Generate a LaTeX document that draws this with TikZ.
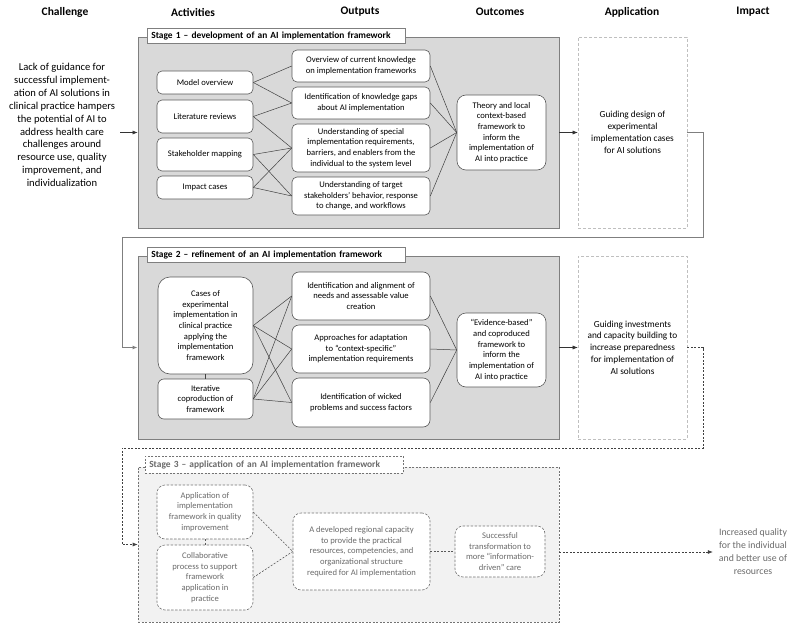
\documentclass[tikz,border=0pt]{standalone}
\usepackage{fontspec}
\setmainfont{Carlito}
\usetikzlibrary{arrows.meta}
\definecolor{stagefill}{HTML}{D9D9D9}
\definecolor{stageline}{HTML}{7F7F7F}
\definecolor{boxline}{HTML}{595959}
\definecolor{paleline}{HTML}{BFBFBF}
\definecolor{fadetext}{HTML}{6A6A6A}
\definecolor{fadefill}{HTML}{F2F2F2}

\begin{document}
\begin{tikzpicture}[x=1pt, y=-1pt,
    head/.style={font=\fontsize{11.5}{13}\selectfont\bfseries},
    stage/.style={draw=stageline, fill=stagefill, line width=0.9pt, inner sep=0},
    title/.style={draw=stageline, fill=white, line width=0.7pt, anchor=north west, inner xsep=4, inner ysep=0,
        text width=250, minimum height=15, align=left, font=\fontsize{9.4}{11}\selectfont\bfseries},
    box/.style={draw=boxline, fill=white, rounded corners=5, line width=0.6pt, inner sep=0, align=center,
        font=\fontsize{8.6}{10.7}\selectfont},
    appbox/.style={draw=paleline, densely dashed, line width=0.6pt, fill=white, inner sep=0, align=center,
        font=\fontsize{9.3}{11.8}\selectfont},
    fadebox/.style={box, draw=black!55, dash pattern=on 2.5pt off 1.5pt, rounded corners=8, text=fadetext},
    link/.style={draw=black!75, line width=0.5pt},
    fadelink/.style={draw=black!65, line width=0.6pt, dash pattern=on 2pt off 1.5pt},
    arr/.style={-{Latex[length=5pt,width=4pt]}}]

    \useasboundingbox (0, 0) rectangle (800, 623);

    \node[head] (hchal) at (65, 12) {Challenge};
    \node[head] (hact) at (193, 13) {Activities};
    \node[head] (hout) at (360, 12) {Outputs};
    \node[head] (hoc) at (500, 12) {Outcomes};
    \node[head] (happ) at (632, 12) {Application};
    \node[head] (himp) at (753, 12) {Impact};

    \node[align=center, font=\fontsize{10.6}{12.9}\selectfont] (chal) at (62, 125)
        {Lack of guidance for\\successful implement-\\ation of AI solutions in\\clinical practice hampers\\the potential of AI to\\address health care\\challenges around\\resource use, quality\\improvement, and\\individualization};
    \coordinate (chalend) at (120, 132.5);

    % stage 1
    \node[stage, minimum width=421, minimum height=191] (s1) at (348.5, 132.5) {};
    \node[title] (t1) at (147, 28) {Stage 1 -- development of an AI implementation framework};

    \node[box, minimum width=96, minimum height=23] (mo) at (205, 82.5) {Model overview};
    \node[box, minimum width=96, minimum height=33] (lr) at (205, 116.5) {Literature reviews};
    \node[box, minimum width=96, minimum height=33] (sm) at (205, 154.5) {Stakeholder mapping};
    \node[box, minimum width=96, minimum height=23] (ic) at (205, 187.5) {Impact cases};

    \node[box, minimum width=138, minimum height=32] (o1) at (361, 66) {Overview of current knowledge\\on implementation frameworks};
    \node[box, minimum width=138, minimum height=32] (o2) at (361, 103) {Identification of knowledge gaps\\about AI implementation};
    \node[box, minimum width=138, minimum height=48] (o3) at (361, 148) {Understanding of special\\implementation requirements,\\barriers, and enablers from the\\individual to the system level};
    \node[box, minimum width=138, minimum height=38] (o4) at (361, 196) {Understanding of target\\stakeholders' behavior, response\\to change, and workflows};

    \node[box, rounded corners=9, minimum width=89, minimum height=75] (oc1) at (501.5, 132.5) {Theory and local\\context-based\\framework to\\inform the\\implementation of\\AI into practice};
    \node[appbox, minimum width=109, minimum height=191] (ap1) at (632.5, 132.5) {Guiding design of\\experimental\\implementation cases\\for AI solutions};

    \draw[link] (mo.east) -- (o1.west);
    \draw[link] (mo.east) -- (o2.west);
    \draw[link] (lr.east) -- (o2.west);
    \draw[link] (lr.east) -- (o3.west);
    \draw[link] (sm.east) -- (o3.west);
    \draw[link] (sm.east) -- (o4.west);
    \draw[link] (ic.east) -- (o3.west);
    \draw[link] (ic.east) -- (o4.west);
    \draw[link] (o1.east) -- (oc1.west);
    \draw[link] (o2.east) -- (oc1.west);
    \draw[link] (o3.east) -- (oc1.west);
    \draw[link] (o4.east) -- (oc1.west);

    \draw[arr, black!80] (chalend) -- (s1.west);
    \draw[arr, black!80] (s1.east) -- (ap1.west);

    % stage 2
    \node[stage, minimum width=421, minimum height=183] (s2) at (348.5, 347.5) {};
    \node[title] (t2) at (147, 247) {Stage 2 -- refinement of an AI implementation framework};

    \node[box, rounded corners=12, minimum width=95, minimum height=97] (ca) at (205.5, 325.5) {Cases of\\experimental\\implementation in\\clinical practice\\applying the\\implementation\\framework};
    \node[box, rounded corners=6, minimum width=95, minimum height=40] (cb) at (205.5, 399) {Iterative\\coproduction of\\framework};

    \node[box, rounded corners=7, minimum width=138, minimum height=48] (p1) at (361, 296) {Identification and alignment of\\needs and assessable value\\creation};
    \node[box, rounded corners=7, minimum width=138, minimum height=48] (p2) at (361, 349) {Approaches for adaptation\\to ``context-specific''\\implementation requirements};
    \node[box, rounded corners=7, minimum width=138, minimum height=49] (p3) at (361, 402.5) {Identification of wicked\\problems and success factors};

    \node[box, rounded corners=9, minimum width=89, minimum height=74] (oc2) at (501.5, 350) {``Evidence-based''\\and coproduced\\framework to\\inform the\\implementation of\\AI into practice};
    \node[appbox, minimum width=109, minimum height=183] (ap2) at (632.5, 347.5) {Guiding investments\\and capacity building to\\increase preparedness\\for implementation of\\AI solutions};

    \draw[link] (ca.south) -- (cb.north);
    \draw[link] (ca.east) -- (p1.west);
    \draw[link] (ca.east) -- (p2.west);
    \draw[link] (ca.east) -- (p3.west);
    \draw[link] (cb.east) -- (p1.west);
    \draw[link] (cb.east) -- (p2.west);
    \draw[link] (cb.east) -- (p3.west);
    \draw[link] (p1.east) -- (oc2.west);
    \draw[link] (p2.east) -- (oc2.west);
    \draw[link] (p3.east) -- (oc2.west);

    \coordinate (turn1) at (703, 237);
    \coordinate (turn2) at (122, 237);
    \draw[arr, stageline, line width=0.9pt] (ap1.east) -| (turn1) -- (turn2) |- (s2.west);
    \draw[arr, black!80] (s2.east) -- (ap2.west);

    % stage 3
    \node[stage, draw=black!55, fill=fadefill, line width=0.6pt, dash pattern=on 2pt off 1.5pt,
        minimum width=421, minimum height=155] (s3) at (348.5, 544.5) {};
    \node[title, draw=black!55, line width=0.6pt, dash pattern=on 2pt off 1.5pt, text=fadetext,
        minimum height=17] (t3) at (145, 456) {Stage 3 -- application of an AI implementation framework};

    \node[fadebox, minimum width=96, minimum height=54] (c1) at (205, 512) {Application of\\implementation\\framework in quality\\improvement};
    \node[fadebox, minimum width=96, minimum height=65] (c2) at (205, 577.5) {Collaborative\\process to support\\framework\\application in\\practice};
    \node[fadebox, minimum width=137, minimum height=77] (q) at (361.5, 551.5) {A developed regional capacity\\to provide the practical\\resources, competencies, and\\organizational structure\\required for AI implementation};
    \node[fadebox, minimum width=90, minimum height=51] (oc3) at (500, 551.5) {Successful\\transformation to\\more ``information-\\driven'' care};
    \node[align=center, text=fadetext, font=\fontsize{9.8}{13}\selectfont, inner sep=6] (imp) at (753, 552) {Increased quality\\for the individual\\and better use of\\resources};

    \draw[fadelink] (c1.south) -- (c2.north);
    \draw[fadelink] (c1.east) -- (q.west);
    \draw[fadelink] (c2.east) -- (q.west);
    \draw[fadelink] (q.east) -- (oc3.west);

    \coordinate (turn3) at (703, 448);
    \coordinate (turn4) at (122, 448);
    \draw[arr, fadelink, draw=black!75] (ap2.east) -| (turn3) -- (turn4) |- (s3.west);
    \draw[arr, fadelink, draw=black!75] (s3.east |- imp.west) -- (imp.west);
\end{tikzpicture}
\end{document}
